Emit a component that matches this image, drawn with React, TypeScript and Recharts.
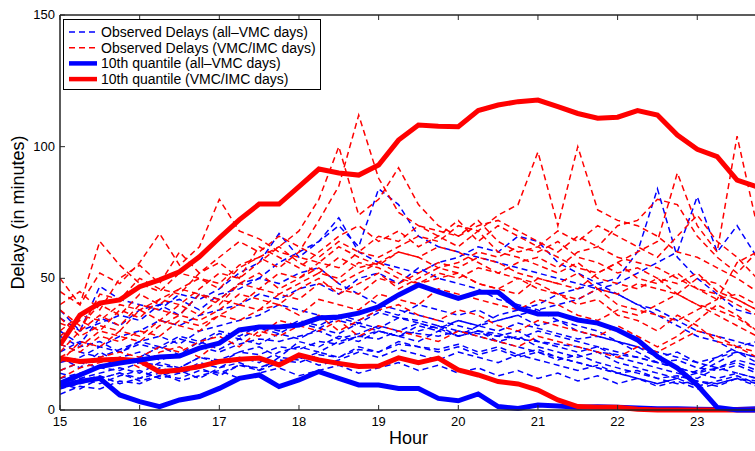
import React from 'react';
import { LineChart, Line, XAxis, YAxis, Legend } from 'recharts';

const hours = [15, 15.25, 15.5, 15.75, 16, 16.25, 16.5, 16.75, 17, 17.25, 17.5, 17.75, 18, 18.25, 18.5, 18.75, 19, 19.25, 19.5, 19.75, 20, 20.25, 20.5, 20.75, 21, 21.25, 21.5, 21.75, 22, 22.25, 22.5, 22.75, 23, 23.25, 23.5, 23.75];
const xTicks = [15, 16, 17, 18, 19, 20, 21, 22, 23];
const yTicks = [0, 50, 100, 150];

const redUpper = [24.7, 36, 40.6, 41.8, 46.8, 49.4, 52.5, 58.2, 65.3, 72.2, 78.2, 78.2, 84.8, 91.5, 90, 89.2, 93, 102.5, 108.2, 107.8, 107.6, 113.7, 115.8, 117.1, 117.7, 115.2, 112.6, 110.8, 111.2, 113.7, 112, 104.4, 99, 96.2, 87.3, 84.8];
const blueUpper = [10.2, 13.3, 16.5, 17.8, 19, 20.1, 20.5, 23.5, 25.4, 30.4, 31.5, 31.5, 32.3, 34.9, 35.3, 36.8, 39.2, 43.7, 47.5, 44.9, 42.4, 44.7, 44.7, 38.7, 36.5, 36.5, 34.2, 33, 30.4, 26.6, 20.3, 15.9, 9.5, 1, 0, 0];
const redLower = [19.7, 18.4, 19, 19.3, 18.7, 14.5, 15.2, 16.5, 18.4, 19.3, 19.7, 17.1, 20.9, 19, 17.7, 16.5, 16.7, 19.8, 18, 19.7, 15.2, 13.3, 10.8, 9.9, 7.6, 3.8, 1.3, 1, 1, 0.3, 0, 0, 0, 0, 0, 0];
const blueLower = [8.9, 10.8, 12, 5.7, 3.2, 1.3, 3.8, 5.1, 8.2, 12, 13.3, 8.9, 11.4, 14.6, 12, 9.5, 9.5, 8.2, 8.2, 4.4, 3.5, 6.1, 1.3, 0.6, 1.9, 1.5, 1, 1.2, 1, 0.8, 0.5, 0.5, 0.3, 0.2, 0.2, 0.5];

const blueObserved = [
  [30, 25, 35, 32, 38, 40, 36, 44, 42, 48, 50, 56, 60, 64, 70, 62, 84, 78, 66, 62, 60, 58, 56, 54, 52, 50, 48, 46, 44, 40, 38, 34, 30, 28, 26, 24],
  [38, 30, 47, 42, 40, 38, 44, 42, 46, 52, 56, 67, 58, 64, 73, 60, 56, 54, 52, 56, 58, 62, 60, 66, 64, 56, 52, 48, 44, 40, 36, 32, 28, 26, 22, 20],
  [10, 12, 14, 16, 14, 18, 16, 20, 18, 22, 24, 20, 26, 24, 28, 26, 30, 28, 32, 30, 34, 32, 36, 38, 40, 44, 46, 48, 50, 60, 84, 58, 50, 44, 38, 36],
  [8, 10, 12, 14, 12, 16, 14, 18, 16, 20, 18, 22, 24, 22, 26, 28, 30, 28, 26, 30, 28, 32, 34, 36, 38, 40, 42, 46, 48, 52, 56, 60, 81, 60, 70, 58],
  [35, 30, 33, 36, 34, 40, 42, 38, 44, 46, 50, 48, 52, 54, 48, 44, 40, 38, 36, 34, 32, 30, 28, 30, 26, 24, 22, 24, 20, 18, 16, 14, 12, 16, 14, 12],
  [12, 14, 16, 15, 18, 17, 16, 20, 19, 22, 21, 24, 23, 26, 25, 28, 27, 30, 29, 28, 30, 29, 28, 27, 26, 25, 24, 22, 21, 20, 18, 16, 14, 12, 14, 12],
  [15, 18, 16, 20, 22, 19, 21, 24, 22, 25, 27, 26, 28, 30, 27, 29, 32, 30, 33, 31, 28, 30, 29, 27, 30, 28, 26, 24, 22, 20, 18, 19, 16, 15, 17, 14],
  [10, 8, 12, 14, 11, 13, 15, 12, 16, 18, 15, 20, 19, 22, 20, 24, 22, 26, 24, 23, 25, 22, 24, 21, 23, 20, 18, 16, 14, 15, 12, 10, 11, 9, 12, 10],
  [20, 16, 22, 18, 20, 24, 21, 26, 23, 27, 25, 29, 27, 31, 29, 33, 31, 35, 33, 31, 34, 32, 30, 33, 31, 29, 27, 28, 26, 24, 22, 20, 18, 16, 19, 17],
  [6, 9, 8, 11, 10, 13, 12, 15, 14, 17, 16, 19, 18, 21, 20, 23, 22, 25, 24, 22, 24, 21, 23, 20, 22, 19, 21, 18, 16, 14, 12, 13, 11, 10, 12, 11],
  [25, 22, 20, 23, 26, 24, 28, 26, 30, 28, 32, 30, 34, 32, 36, 34, 38, 36, 40, 38, 36, 38, 34, 36, 32, 34, 30, 28, 26, 24, 20, 22, 18, 20, 22, 18],
  [14, 12, 10, 13, 15, 12, 14, 16, 13, 17, 15, 18, 20, 17, 19, 22, 20, 23, 21, 19, 22, 20, 18, 21, 19, 17, 15, 17, 14, 12, 10, 12, 9, 11, 13, 10],
  [18, 20, 24, 22, 26, 28, 25, 30, 32, 34, 36, 40, 38, 36, 34, 32, 30, 28, 30, 32, 28, 30, 26, 28, 24, 22, 20, 22, 18, 16, 14, 12, 14, 16, 18, 15],
  [9, 11, 13, 10, 12, 14, 11, 13, 15, 12, 14, 16, 13, 15, 17, 14, 16, 18, 15, 17, 14, 16, 13, 15, 12, 14, 11, 13, 10, 12, 9, 11, 8, 10, 12, 9],
  [22, 26, 24, 28, 30, 34, 32, 36, 38, 40, 44, 42, 46, 48, 44, 50, 52, 48, 54, 50, 48, 46, 42, 40, 38, 34, 32, 30, 26, 22, 18, 16, 14, 18, 22, 20],
  [28, 24, 26, 22, 25, 23, 27, 25, 29, 27, 31, 29, 33, 31, 35, 33, 37, 35, 34, 32, 30, 28, 26, 24, 22, 20, 18, 16, 14, 12, 10, 12, 15, 20, 24, 26],
];

const redObserved = [
  [38, 32, 40, 36, 44, 40, 46, 50, 48, 55, 58, 54, 60, 72, 85, 112, 88, 75, 70, 66, 62, 68, 60, 58, 55, 52, 56, 50, 48, 46, 50, 44, 40, 38, 35, 30],
  [28, 34, 30, 38, 35, 42, 40, 46, 52, 50, 56, 62, 68, 80, 100, 74, 80, 92, 78, 70, 66, 72, 64, 60, 62, 58, 54, 52, 56, 50, 48, 52, 46, 42, 44, 40],
  [22, 30, 36, 32, 40, 38, 36, 44, 42, 48, 46, 52, 50, 56, 54, 60, 58, 62, 66, 64, 70, 68, 74, 78, 98, 70, 100, 76, 72, 70, 66, 60, 58, 54, 50, 45],
  [18, 26, 24, 30, 28, 34, 32, 30, 36, 40, 38, 44, 42, 48, 46, 44, 50, 48, 52, 56, 54, 58, 56, 52, 50, 48, 46, 52, 56, 60, 64, 90, 70, 60, 104, 70],
  [45, 40, 52, 48, 56, 67, 55, 62, 80, 68, 65, 60, 58, 56, 62, 58, 55, 60, 58, 54, 56, 60, 58, 62, 60, 64, 58, 56, 52, 54, 50, 48, 52, 45, 42, 38],
  [50, 40, 64, 55, 48, 45, 52, 50, 46, 54, 58, 62, 56, 52, 58, 54, 56, 52, 48, 50, 52, 48, 46, 44, 50, 48, 52, 46, 44, 48, 46, 44, 40, 36, 32, 28],
  [35, 28, 32, 30, 38, 34, 40, 36, 42, 40, 46, 44, 48, 52, 50, 56, 54, 50, 48, 52, 50, 54, 52, 56, 58, 54, 60, 62, 70, 72, 80, 78, 66, 58, 52, 60],
  [25, 22, 28, 26, 30, 28, 34, 32, 36, 34, 38, 40, 36, 42, 40, 38, 44, 42, 40, 46, 44, 42, 40, 38, 42, 40, 36, 34, 38, 36, 40, 44, 50, 48, 42, 38],
  [30, 36, 34, 40, 38, 42, 46, 44, 40, 48, 52, 46, 50, 54, 48, 52, 56, 60, 58, 62, 60, 56, 52, 50, 46, 44, 42, 46, 40, 38, 36, 34, 38, 42, 56, 60],
  [15, 18, 20, 22, 20, 24, 22, 26, 28, 24, 30, 28, 32, 30, 34, 28, 32, 30, 28, 26, 30, 28, 26, 24, 28, 26, 24, 22, 20, 24, 22, 26, 30, 28, 24, 20],
  [40, 45, 38, 50, 55, 48, 60, 52, 58, 64, 60, 66, 62, 58, 64, 60, 66, 64, 70, 68, 66, 70, 72, 68, 64, 60, 66, 62, 58, 56, 54, 50, 46, 44, 40, 36],
  [20, 24, 30, 28, 26, 32, 36, 34, 38, 44, 42, 40, 46, 50, 44, 48, 52, 46, 50, 54, 52, 48, 46, 50, 48, 44, 40, 42, 36, 34, 30, 36, 32, 26, 24, 22],
  [12, 16, 18, 20, 16, 22, 24, 20, 26, 30, 28, 34, 32, 36, 30, 34, 38, 40, 36, 34, 38, 36, 32, 30, 34, 32, 30, 28, 32, 28, 24, 28, 34, 40, 36, 30],
  [33, 30, 44, 42, 50, 46, 44, 52, 56, 50, 62, 58, 54, 60, 66, 70, 64, 68, 62, 66, 72, 64, 70, 66, 62, 68, 64, 70, 66, 62, 58, 66, 74, 64, 58, 50],
];

const BLUE = '#0000ff';
const RED = '#ff0000';
const AXIS = '#262626';
const FONT = '"Liberation Sans", Arial, Helvetica, sans-serif';

const legendItems = [
  { label: 'Observed Delays (all\u2013VMC days)', color: BLUE, dashed: true },
  { label: 'Observed Delays (VMC/IMC days)', color: RED, dashed: true },
  { label: '10th quantile (all\u2013VMC days)', color: BLUE, dashed: false },
  { label: '10th quantile (VMC/IMC days)', color: RED, dashed: false },
];

const PLOT_LEFT = 60;
const PLOT_TOP = 15;
const PLOT_BOTTOM = 410;

const rows = hours.map((h, i) => {
  const row: Record<string, number> = {
    hour: h,
    redUpper: redUpper[i],
    blueUpper: blueUpper[i],
    redLower: redLower[i],
    blueLower: blueLower[i],
  };
  blueObserved.forEach((s, k) => { row['b' + k] = s[i]; });
  redObserved.forEach((s, k) => { row['r' + k] = s[i]; });
  return row;
});

const BottomTick = (props: any) => {
  const { x, payload } = props;
  return (
    <g>
      <line x1={x} x2={x} y1={PLOT_BOTTOM} y2={PLOT_BOTTOM - 5} stroke={AXIS} strokeWidth={1} />
      <text x={x} y={PLOT_BOTTOM + 16} textAnchor="middle" fontSize={13} fontFamily={FONT} fill="#000">
        {payload.value}
      </text>
    </g>
  );
};

const TopTick = (props: any) => {
  const { x } = props;
  return <line x1={x} x2={x} y1={PLOT_TOP} y2={PLOT_TOP + 5} stroke={AXIS} strokeWidth={1} />;
};

const LeftTick = (props: any) => {
  const { y, payload } = props;
  return (
    <g>
      <line x1={PLOT_LEFT} x2={PLOT_LEFT + 5} y1={y} y2={y} stroke={AXIS} strokeWidth={1} />
      <text x={PLOT_LEFT - 5} y={y + 4} textAnchor="end" fontSize={13} fontFamily={FONT} fill="#000">
        {payload.value}
      </text>
    </g>
  );
};

const renderLegend = () => (
  <svg width={258} height={71} style={{ display: 'block' }}>
    <rect x={0.5} y={0.5} width={257} height={70} fill="#fff" stroke="#000" strokeWidth={1} />
    {legendItems.map((it, i) => {
      const cy = 13 + i * 15.7;
      return (
        <g key={it.label}>
          <line
            x1={6}
            x2={34}
            y1={cy}
            y2={cy}
            stroke={it.color}
            strokeWidth={it.dashed ? 1.5 : 4.5}
            strokeDasharray={it.dashed ? '6 4' : undefined}
          />
          <text x={38} y={cy + 5} fontSize={14} fontFamily={FONT} fill="#000">
            {it.label}
          </text>
        </g>
      );
    })}
  </svg>
);

export default function App() {
  return (
    <div style={{ position: 'absolute', left: 0, top: 0, width: 755, height: 451, overflow: 'hidden', background: '#fff' }}>
      <LineChart width={757} height={451} data={rows} margin={{ top: 0, right: 0, bottom: 0, left: 0 }}>
        <XAxis
          xAxisId="bottom"
          dataKey="hour"
          type="number"
          domain={[15, 23.75]}
          ticks={xTicks}
          allowDataOverflow
          height={41}
          axisLine={{ stroke: AXIS, strokeWidth: 1.5 }}
          tickLine={false}
          tick={<BottomTick />}
          label={{ value: 'Hour', position: 'insideBottom', offset: 7, style: { fontSize: 18, fontFamily: FONT, fill: '#000' } }}
        />
        <XAxis
          xAxisId="top"
          orientation="top"
          dataKey="hour"
          type="number"
          domain={[15, 23.75]}
          ticks={xTicks}
          allowDataOverflow
          height={15}
          axisLine={{ stroke: AXIS, strokeWidth: 1.5 }}
          tickLine={false}
          tick={<TopTick />}
        />
        <YAxis
          yAxisId="left"
          type="number"
          domain={[0, 150]}
          ticks={yTicks}
          width={60}
          axisLine={{ stroke: AXIS, strokeWidth: 1.5 }}
          tickLine={false}
          tick={<LeftTick />}
          label={{ value: 'Delays (in minutes)', angle: -90, position: 'insideLeft', offset: 18, style: { fontSize: 18, fontFamily: FONT, fill: '#000', textAnchor: 'middle' } }}
        />
        <Legend
          layout="horizontal"
          verticalAlign="middle"
          align="center"
          wrapperStyle={{ left: 63, top: 19, width: 258, height: 71 }}
          content={renderLegend}
        />
        {blueObserved.map((_, k) => (
          <Line key={'b' + k} xAxisId="bottom" yAxisId="left" dataKey={'b' + k} stroke={BLUE} strokeWidth={1.5} strokeDasharray="6 4" dot={false} activeDot={false} isAnimationActive={false} />
        ))}
        {redObserved.map((_, k) => (
          <Line key={'r' + k} xAxisId="bottom" yAxisId="left" dataKey={'r' + k} stroke={RED} strokeWidth={1.5} strokeDasharray="6 4" dot={false} activeDot={false} isAnimationActive={false} />
        ))}
        <Line xAxisId="bottom" yAxisId="left" dataKey="blueLower" stroke={BLUE} strokeWidth={5} dot={false} activeDot={false} isAnimationActive={false} />
        <Line xAxisId="bottom" yAxisId="left" dataKey="redLower" stroke={RED} strokeWidth={5} dot={false} activeDot={false} isAnimationActive={false} />
        <Line xAxisId="bottom" yAxisId="left" dataKey="blueUpper" stroke={BLUE} strokeWidth={5} dot={false} activeDot={false} isAnimationActive={false} />
        <Line xAxisId="bottom" yAxisId="left" dataKey="redUpper" stroke={RED} strokeWidth={5} dot={false} activeDot={false} isAnimationActive={false} />
      </LineChart>
    </div>
  );
}
